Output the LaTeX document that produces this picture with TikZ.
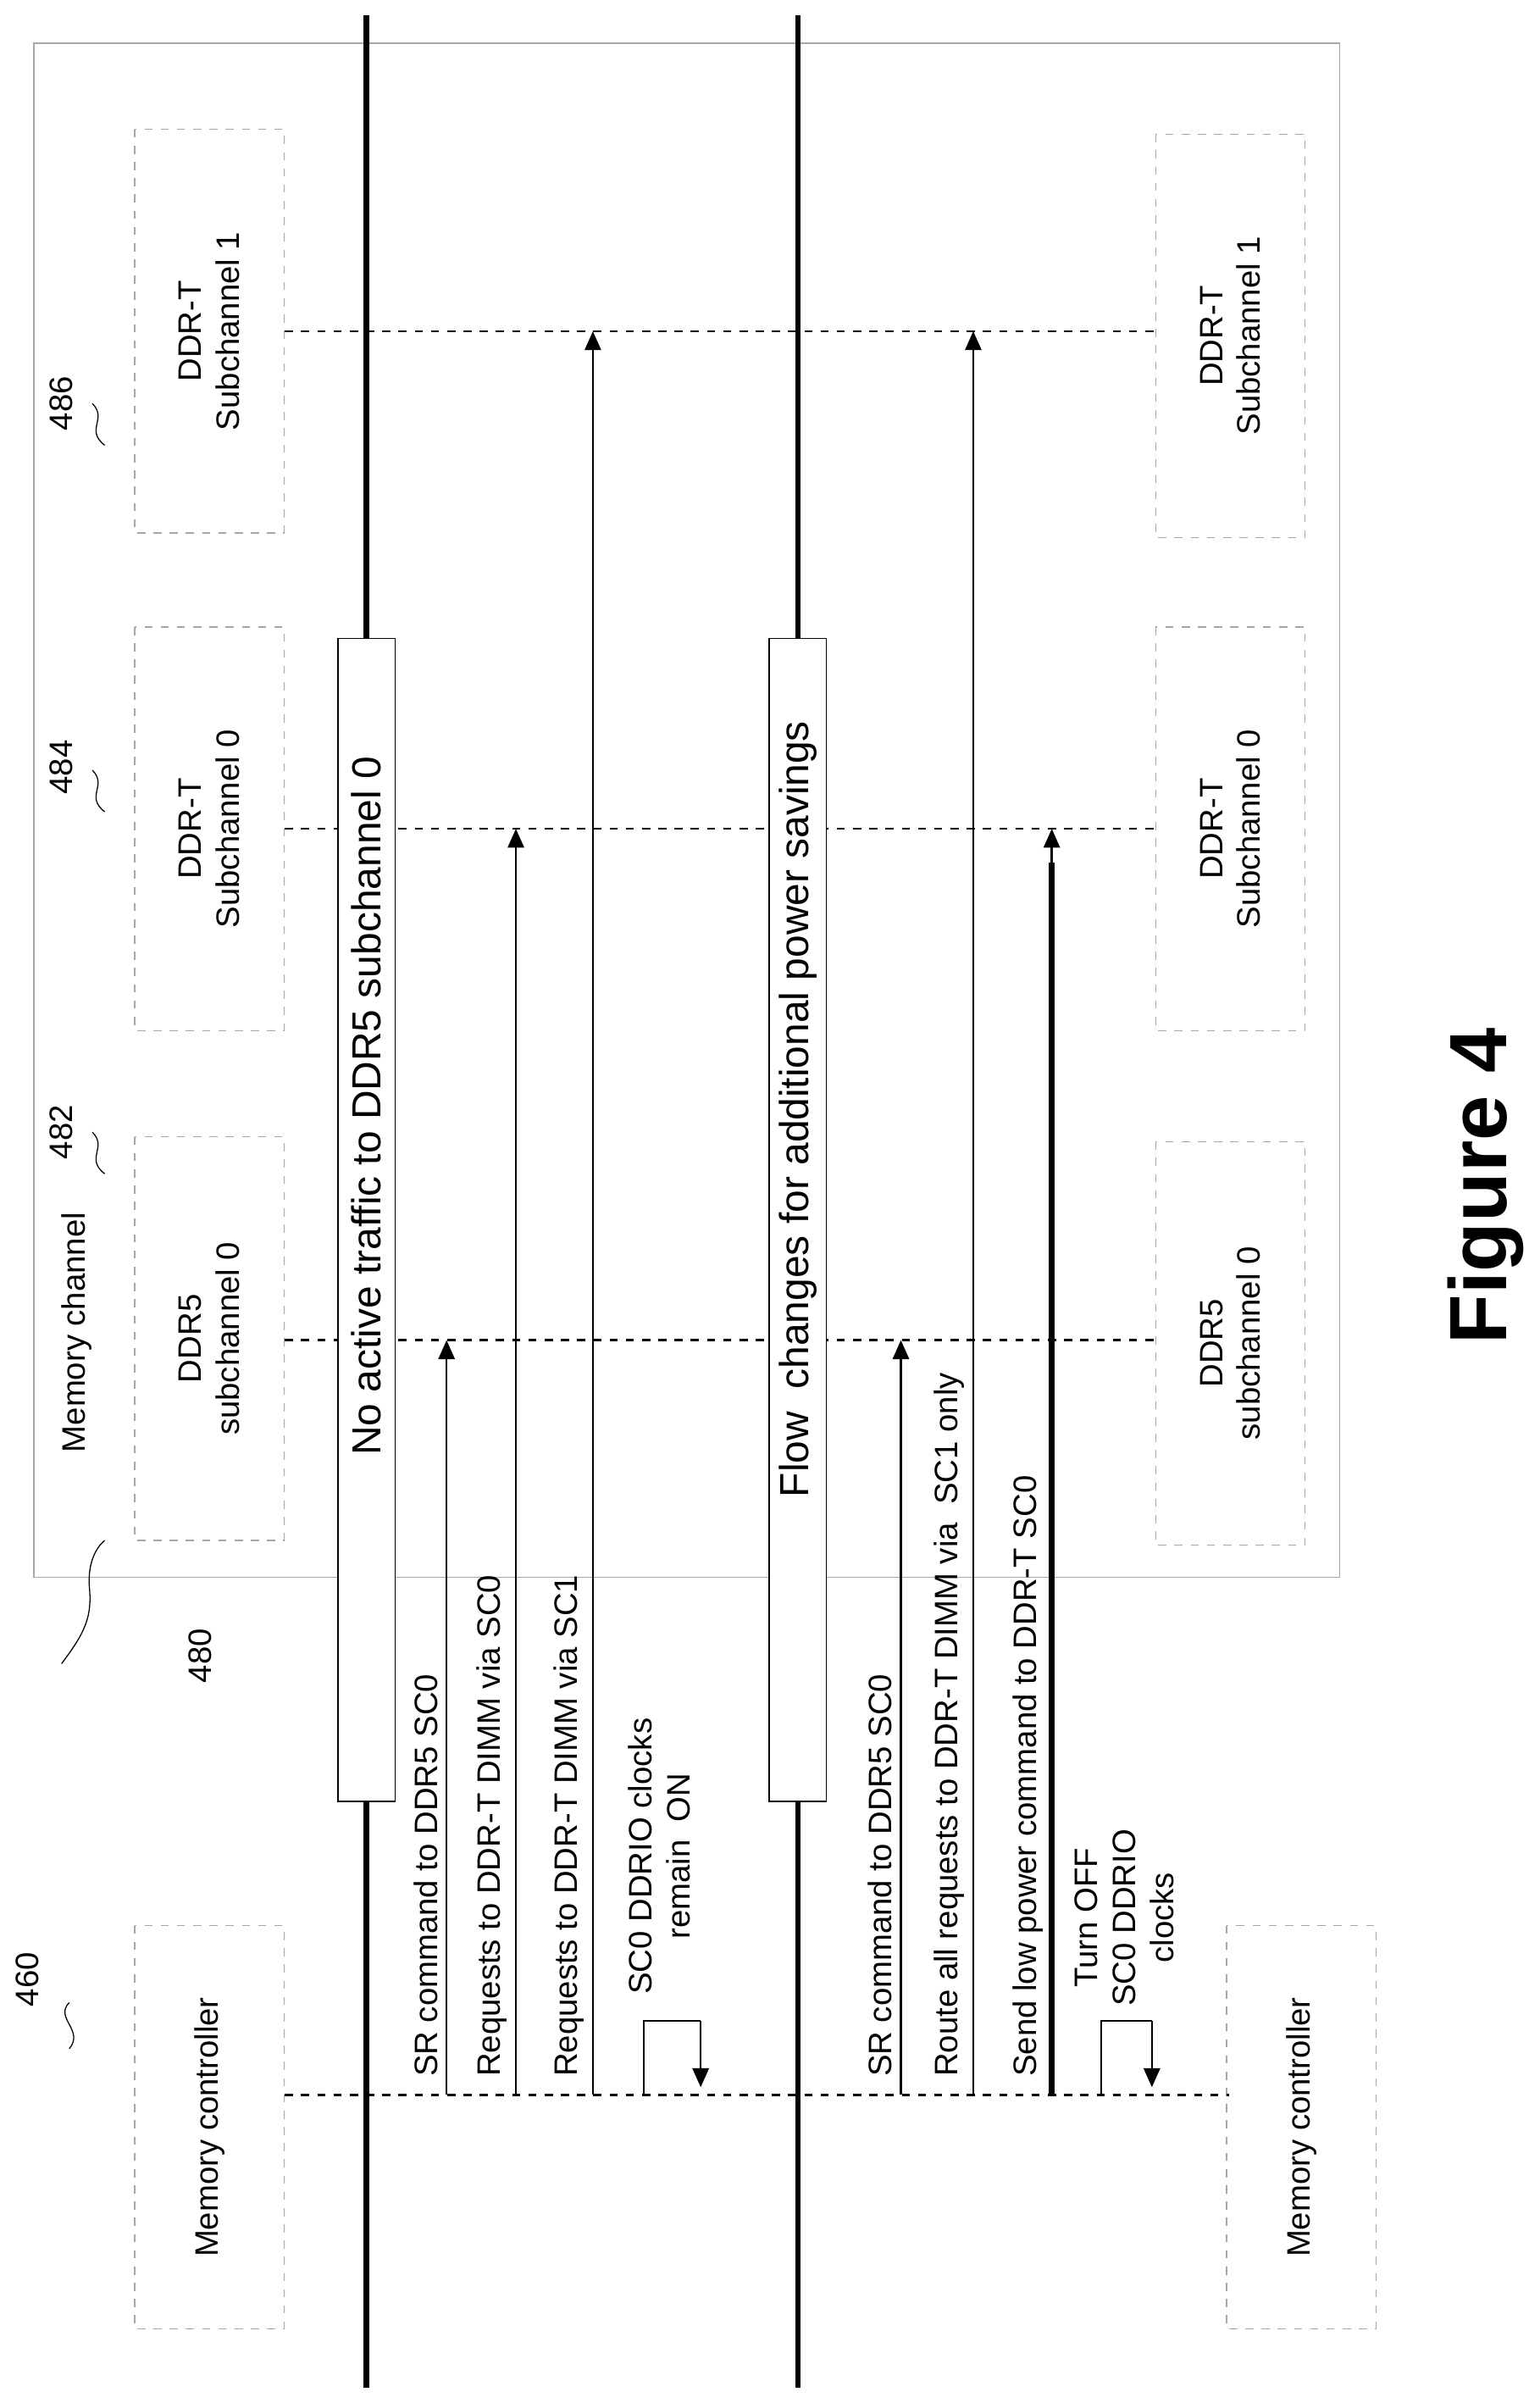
\documentclass[tikz,border=0pt]{standalone}
\usepackage{fontspec}
\setmainfont{Liberation Sans}
\usetikzlibrary{arrows.meta}

\tikzset{
  unit/.style={draw=gray!70, dashed, rotate=90, align=center, minimum width=5.24cm, minimum height=1.94cm, font=\large},
  act/.style={draw=black, fill=white, rotate=90, minimum width=15.1cm, minimum height=0.74cm},
  acttext/.style={rotate=90, inner sep=0pt, font=\fontsize{15}{18}\selectfont},
  life/.style={dashed, thick},
  msg/.style={thick, -{Triangle[length=7pt,width=6pt]}},
  lbl/.style={rotate=90, anchor=south west, inner sep=2pt, font=\large, align=left},
  refno/.style={rotate=90, font=\large},
}

\begin{document}
\begin{tikzpicture}[x=0.02cm, y=-0.02cm]
\useasboundingbox (0,0) rectangle (1000,1560);

% memory channel frame
\draw[gray!70] (22,28) rectangle (870,1024);
\node[refno] (mchan) at (50,865) {Memory channel};

% thick timeline bars
\draw[line width=2pt] (238,10) -- (238,1550);
\draw[line width=2pt] (518,10) -- (518,1550);

% units
\node[unit] (ddr5a) at (136,869) {DDR5\\subchannel 0};
\node[unit] (dtza) at (136,538) {DDR-T\\Subchannel 0};
\node[unit] (dtoa) at (136,215) {DDR-T\\Subchannel 1};
\node[unit] (mca) at (136,1381) {Memory controller};
\node[unit] (ddr5b) at (799,872) {DDR5\\subchannel 0};
\node[unit] (dtzb) at (799,538) {DDR-T\\Subchannel 0};
\node[unit] (dtob) at (799,218) {DDR-T\\Subchannel 1};
\node[unit] (mcb) at (845,1381) {Memory controller};

% lifelines
\draw[life] (185,1360) -- (798,1360);
\draw[life] (185,870) -- (750,870);
\draw[life] (185,538) -- (750,538);
\draw[life] (185,215) -- (750,215);

% activity boxes
\node[act] (noact) at (238,792) {};
\node[acttext] at (238,718) {No active traffic to DDR5 subchannel 0};
\node[act] (flow) at (518,792) {};
\node[acttext] at (518,720) {Flow\ \ changes for additional power savings};

% messages
\foreach \x/\y/\t in {290/870/SR command to DDR5 SC0,
                      335/538/Requests to DDR-T DIMM via SC0,
                      385/215/Requests to DDR-T DIMM via SC1,
                      585/870/SR command to DDR5 SC0,
                      632/215/Route all requests to DDR-T DIMM via\ \ SC1 only,
                      683/538/Send low power command to DDR-T SC0} {
  \coordinate (s\x) at (\x,1360);
  \coordinate (e\x) at (\x,\y);
  \draw[msg] (s\x) -- (e\x);
  \node[lbl] at (\x-2,1352) {\t};
}
\draw[line width=2pt] (683,1360) -- (683,560);

% self loops
\coordinate (la) at (418,1360);
\coordinate (lb) at (455,1355);
\draw[thick] (la) -- (418,1312) -- (455,1312);
\draw[msg] (455,1312) -- (lb);
\node[rotate=90, align=center, font=\large] (clkon) at (428,1205) {SC0 DDRIO clocks\\remain\ \ ON};
\coordinate (lc) at (715,1360);
\coordinate (ld) at (748,1355);
\draw[thick] (lc) -- (715,1312) -- (748,1312);
\draw[msg] (748,1312) -- (ld);
\node[rotate=90, align=center, font=\large] (clkoff) at (730,1245) {Turn OFF\\SC0 DDRIO\\clocks};

% reference numbers
\node[refno] (n460) at (18,1285) {460};
\draw (45,1300) .. controls (35,1310) and (55,1318) .. (45,1330);
\node[refno] (n480) at (130,1075) {480};
\draw (40,1080) .. controls (55,1060) and (60,1050) .. (58,1030) .. controls (57,1015) and (62,1005) .. (68,1000);
\node[refno] (n482) at (40,735) {482};
\draw (60,735) .. controls (70,745) and (55,752) .. (68,762);
\node[refno] (n484) at (40,498) {484};
\draw (60,500) .. controls (70,510) and (55,517) .. (68,527);
\node[refno] (n486) at (40,262) {486};
\draw (60,262) .. controls (70,272) and (55,279) .. (68,289);

% caption
\node[rotate=90, font=\bfseries\fontsize{30}{36}\selectfont] (fig) at (965,770) {Figure 4};
\end{tikzpicture}
\end{document}
